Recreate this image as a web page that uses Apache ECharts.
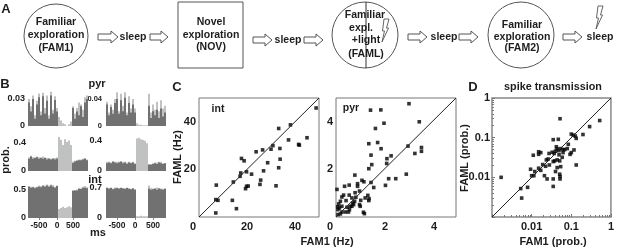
<!DOCTYPE html>
<html><head><meta charset="utf-8">
<style>html,body{margin:0;padding:0;background:#fff}#c{width:617px;height:248px}</style>
<script src="https://cdn.jsdelivr.net/npm/echarts@6/dist/echarts.min.js"></script>
</head><body><div id="c"></div>
<script>
// ---------- Panel B: histograms (30 bins per panel) ----------
var binsLeft  = ['','','','','','-500','','','','','','','','','0','','','','','','','','500','','','','','','',''];
var binsRight = ['','','','','','-500','','','','','','','','','0','','','','','','','','','500','','','','','',''];

var r1LeftDark  = [.026,.016,.030,.008,.024,.032,.012,.033,.014,.028,.008,.034,.014,.029,.016,0,0,0,0,0,0,0,.020,.008,.016,.012,.022,.010,.026,.030];
var r1LeftLight = [.030,.022,.034,.012,.028,.036,.016,.037,.020,.034,.012,.038,.018,.033,.020,.010,.006,.003,.002,0,.002,.005,.022,.014,.020,.026,.024,.018,.032,.034];
var r1RightDark  = [.032,.016,.028,.018,.034,.040,.018,.038,.022,.042,.016,.034,.020,.032,.020,0,0,0,0,0,0,.030,.012,.022,.016,.024,.012,.026,.014,.020];
var r1RightLight = [.036,.020,.032,.024,.040,.050,.022,.048,.030,.050,.020,.044,.026,.040,.026,.004,.002,.002,.001,.001,.001,.048,.020,.032,.024,.036,.022,.038,.026,.030];
var r2LeftDark  = [.17,.20,.17,.18,.19,.17,.18,.17,.18,.16,.17,.16,.17,.16,.17,0,0,0,0,0,0,0,.11,.13,.14,.15,.15,.16,.17,.15];
var r2LeftLight = [.19,.21,.19,.19,.20,.19,.19,.20,.19,.18,.18,.17,.18,.18,.19,.47,.43,.36,.44,.40,.42,.36,.13,.14,.15,.16,.16,.17,.18,.16];
var r2RightDark  = [.10,.11,.10,.12,.11,.10,.11,.12,.10,.11,.09,.11,.10,.11,.09,0,0,0,0,0,0,.08,.08,.09,.10,.09,.11,.10,.09,.10];
var r2RightLight = [.12,.12,.11,.13,.12,.12,.12,.13,.12,.12,.11,.12,.11,.12,.10,.42,.43,.41,.40,.39,.36,.09,.09,.10,.11,.11,.12,.12,.10,.10];
var r3LeftDark  = [.56,.54,.55,.53,.55,.56,.55,.57,.56,.58,.56,.58,.56,.54,.57,0,0,0,0,0,0,0,.48,.49,.49,.52,.52,.54,.54,.53];
var r3LeftLight = [.57,.56,.56,.55,.56,.58,.57,.59,.58,.60,.58,.60,.59,.56,.58,.16,.18,.20,.18,.19,.21,.19,.50,.50,.51,.54,.53,.56,.57,.55];
var r3RightDark  = [.70,.68,.70,.67,.69,.70,.68,.70,.69,.68,.70,.68,.67,.69,.66,0,0,0,0,0,0,.68,.66,.67,.68,.66,.69,.67,.66,.68];
var r3RightLight = [.72,.70,.71,.69,.71,.71,.70,.71,.70,.69,.71,.69,.68,.70,.67,.04,.04,.05,.04,.04,.04,.76,.70,.69,.70,.71,.70,.69,.68,.69];

// ---------- Panel C: firing rates, FAM1 vs FAML ----------
var intPoints = [[7.2,13.4],[7,7.3],[7.9,7],[7,1.7],[13.9,7],[15.6,3.5],[14.3,14.7],[17.1,17.1],[17.4,18.5],[17.7,24.6],[18.8,23.6],[19.8,19],[21.9,18],[19.4,11.9],[19.8,12.9],[20.5,13],[23.8,27.4],[26.5,28.2],[25.4,13.7],[25.7,15.5],[26.9,19.4],[28.6,22.8],[30,28.5],[30.8,30],[32.1,13.1],[33.2,37.2],[33.7,28.8],[33.8,24.3],[33.2,20.7],[37.3,32.4],[38.1,38.7],[41.8,30.2],[41.5,30.5],[45,33.3],[48.8,45.8]];
var pyrPoints = [[2.98,4.76],[3.4,4],[1.41,4.49],[1.83,4.5],[1.96,3.94],[1.61,3.72],[1.7,3.13],[1.34,3.08],[1.84,2.87],[2.94,2.98],[3.49,2.92],[3.49,2.76],[3.22,2.67],[1.43,2.6],[2.25,2.57],[2.08,2.45],[2.07,2.25],[1.46,2.2],[1.34,2.03],[2.87,1.8],[.77,1.76],[2.15,1.61],[2.44,1.61],[2.02,1.33],[1.06,1.54],[1.14,1.48],[1.43,1.45],[1.54,1.24],[.88,1.4],[.88,1.29],[.54,1.34],[.35,1.29],[.04,1.16],[.96,1.09],[.78,1.02],[.54,.92],[.31,.92],[.24,.84],[.65,.8],[.81,.83],[.41,.69],[.18,.66],[.11,.55],[.07,.43],[.14,.38],[.08,.31],[.24,.45],[.45,.41],[.58,.45],[.68,.59],[.76,.66],[.55,.31],[.65,.45],[.72,.52],[.24,.21],[.38,.21],[.08,.1],[.18,.13],[.51,.21],[1.19,.8],[1.3,.91],[1.35,.77],[1.34,.69],[1.01,.7],[.96,.52],[.99,.45],[1.12,.2],[1.16,.14]];

// ---------- Panel D: spike transmission ----------
var spikePoints = [[.0017,.010],[.0053,.0052],[.0056,.003],[.0079,.0056],[.0094,.016],[.010,.011],[.0114,.011],[.012,.014],[.015,.017],[.011,.036],[.015,.038],[.015,.044],[.017,.042],[.017,.015],[.019,.021],[.021,.011],[.0245,.0091],[.0235,.0275],[.026,.029],[.0225,.019],[.028,.0205],[.0275,.040],[.033,.043],[.035,.025],[.038,.026],[.035,.0091],[.035,.0059],[.035,.089],[.047,.091],[.052,.30],[.042,.059],[.044,.052],[.049,.047],[.040,.046],[.037,.040],[.054,.053],[.062,.050],[.068,.050],[.079,.053],[.084,.068],[.049,.037],[.059,.032],[.044,.0275],[.051,.026],[.062,.042],[.044,.0176],[.054,.0186],[.040,.014],[.051,.012],[.052,.0105],[.052,.0091],[.093,.038],[.10,.042],[.117,.049],[.10,.123],[.112,.116],[.126,.11],[.133,.096],[.133,.0205],[.197,.12],[.29,.19],[.52,.27]];

function font(size){ return 'bold ' + size + 'px "Liberation Sans", Arial, sans-serif'; }
var ink = '#1d1d1d';

var grid = [], xAxis = [], yAxis = [], series = [], graphic = [];

function txt(s, x, y, size, rot, color){
  graphic.push({type:'text', x:x, y:y, rotation:rot||0, silent:true, z:50,
    style:{text:s, font:font(size), fill:color||ink, align:'center', verticalAlign:'middle'}});
}
function histo(left, top, height, cats, dark, light, ymax, ticks, labelSize, margin){
  var i = grid.length;
  grid.push({left:left, top:top, width:60, height:height});
  xAxis.push({type:'category', gridIndex:i, data:cats, boundaryGap:true,
    axisLine:{show:false},
    axisTick:{show:true, length:2, alignWithLabel:true, interval:function(n,v){return v!=='';}, lineStyle:{color:'#888'}},
    axisLabel:{interval:function(n,v){return v!=='';}, color:ink, margin:3, fontWeight:'bold', fontSize:8.5, fontFamily:'Liberation Sans'}});
  yAxis.push({type:'value', gridIndex:i, min:0, max:ymax, splitLine:{show:false}, axisLine:{show:false},
    axisTick:{show:false},
    axisLabel:{customValues:ticks, showMinLabel:true, showMaxLabel:true, margin:margin, color:ink, fontWeight:'bold', fontSize:labelSize, fontFamily:'Liberation Sans'}});
  series.push({type:'bar', xAxisIndex:i, yAxisIndex:i, data:light, barWidth:'88%', barGap:'-100%', itemStyle:{color:'#b8baba'}, silent:true, animation:false});
  series.push({type:'bar', xAxisIndex:i, yAxisIndex:i, data:dark, barWidth:'88%', barGap:'-100%', itemStyle:{color:'#666666'}, silent:true, animation:false});
}
var noLabel = binsLeft.map(function(){return '';});

histo(28, 91, 35, noLabel, r1LeftDark, r1LeftLight, .0389, [0,.03], 9, 3);
histo(106,91, 35, noLabel, r1RightDark, r1RightLight, .0519, [0,.04], 7.5, 4);
histo(28, 135,36, noLabel, r2LeftDark, r2LeftLight, .497, [0,.4], 9, 2);
histo(106,135,36, noLabel, r2RightDark, r2RightLight, .465, [0,.4], 9, 4);
histo(28, 183,35, binsLeft, r3LeftDark, r3LeftLight, .625, [0,.5], 9, 2);
histo(106,183,35, binsRight, r3RightDark, r3RightLight, .817, [0,.7], 9, 4);

function scatter(left, top, width, height, xmax, ymax, xt, yt, pts){
  var i = grid.length;
  grid.push({left:left, top:top, width:width, height:height, show:true, borderColor:'#777', borderWidth:1, backgroundColor:'transparent'});
  xAxis.push({type:'value', gridIndex:i, min:0, max:xmax, splitLine:{show:false}, axisLine:{show:false}, axisTick:{show:false},
    name:'0', nameLocation:'start', nameGap:6,
    nameTextStyle:{color:ink, fontWeight:'bold', fontSize:11, fontFamily:'Liberation Sans', align:'center', verticalAlign:'top', padding:[4,0,0,0]},
    axisLabel:{customValues:xt, margin:4, color:ink, fontWeight:'bold', fontSize:11, fontFamily:'Liberation Sans'}});
  yAxis.push({type:'value', gridIndex:i, min:0, max:ymax, splitLine:{show:false}, axisLine:{show:false}, axisTick:{show:false},
    axisLabel:{customValues:yt, margin:3, color:ink, fontWeight:'bold', fontSize:11, fontFamily:'Liberation Sans'}});
  series.push({type:'line', xAxisIndex:i, yAxisIndex:i, data:[[0,0],[xmax,ymax]], showSymbol:false, lineStyle:{color:'#222',width:1}, silent:true, animation:false});
  series.push({type:'scatter', xAxisIndex:i, yAxisIndex:i, data:pts, symbol:'rect', symbolSize:3.6, itemStyle:{color:'#000'}, silent:true, animation:false});
}
scatter(199, 98, 120, 119, 50, 50, [20,40], [20,40], intPoints);
scatter(336, 98, 120, 119, 4.9, 5, [2,4], [2,4], pyrPoints);

// D: log-log
(function(){
  var i = grid.length;
  grid.push({left:492, top:98, width:120, height:119, show:true, borderColor:'#888', borderWidth:1.5, backgroundColor:'transparent'});
  function fmt(v){ return v>=1 ? '1' : (v>=.09 ? '0.1' : '0.01'); }
  xAxis.push({type:'log', logBase:10, gridIndex:i, min:.001, max:1, splitLine:{show:false}, axisLine:{show:false},
    axisTick:{show:true, inside:true, length:3, lineStyle:{color:'#777'}}, minorTick:{show:true, splitNumber:9, length:2, lineStyle:{color:'#777'}}, minorSplitLine:{show:false},
    axisLabel:{customValues:[.01,.1,1], showMaxLabel:true, formatter:fmt, margin:4, color:ink, fontWeight:'bold', fontSize:11, fontFamily:'Liberation Sans'}});
  yAxis.push({type:'log', logBase:10, gridIndex:i, min:.001, max:1, splitLine:{show:false}, axisLine:{show:false},
    axisTick:{show:true, inside:true, length:3, lineStyle:{color:'#777'}}, minorTick:{show:true, splitNumber:9, length:2, lineStyle:{color:'#777'}}, minorSplitLine:{show:false},
    axisLabel:{customValues:[.01,.1,1], showMaxLabel:true, formatter:fmt, margin:2, color:ink, fontWeight:'bold', fontSize:11, fontFamily:'Liberation Sans'}});
  series.push({type:'line', xAxisIndex:i, yAxisIndex:i, data:[[.001,.001],[1,1]], showSymbol:false, lineStyle:{color:'#222',width:1}, silent:true, animation:false});
  series.push({type:'scatter', xAxisIndex:i, yAxisIndex:i, data:spikePoints, symbol:'rect', symbolSize:3.6, itemStyle:{color:'#000'}, silent:true, animation:false});
})();

// ---------- Panel labels and axis titles ----------
txt('A', 6, 9, 13);
txt('B', 5, 84, 13);
txt('C', 177, 87, 13);
txt('D', 473, 87, 13);
txt('pyr', 97, 84, 11);
txt('int', 95, 180, 11);
txt('ms', 98, 233, 11);
txt('prob.', 6, 160, 11, Math.PI/2);
txt('int', 218, 109, 10.5);
txt('pyr', 351, 108, 10.5);
txt('FAML (Hz)', 178, 157, 11, Math.PI/2);
txt('FAM1 (Hz)', 327, 242, 11);
txt('spike transmission', 553, 87, 10.8);
txt('FAM1 (prob.)', 553, 242, 11);
txt('FAML (prob.)', 465, 158, 11, Math.PI/2);

// ---------- Panel A: schematic ----------
function circle(cx, cy, r){ graphic.push({type:'circle', shape:{cx:cx,cy:cy,r:r}, silent:true, style:{fill:'#fff',stroke:'#555',lineWidth:1}}); }
function arrow(x0, x1, y){
  var h=3, H=6, n=x1-7;
  graphic.push({type:'polygon', silent:true, shape:{points:[[x0,y-h],[n,y-h],[n,y-H],[x1,y],[n,y+H],[n,y+h],[x0,y+h]]},
    style:{fill:'#fff',stroke:'#555',lineWidth:1}});
}
function bolt(x, y){
  graphic.push({type:'polygon', silent:true, z:60, shape:{points:[[x,y],[x+5,y],[x+2.5,y+9],[x+4.5,y+9],[x-2,y+23],[x+.5,y+12],[x-1.5,y+12]]},
    style:{fill:'#fff',stroke:'#555',lineWidth:.9}});
}
circle(56,36,32);
txt('Familiar',56,22,10.5); txt('exploration',56,35,10.5); txt('(FAM1)',56,48,10.5);
graphic.push({type:'rect', silent:true, shape:{x:178,y:2,width:65,height:66}, style:{fill:'#fff',stroke:'#555',lineWidth:1}});
txt('Novel',211,22,10.5); txt('exploration',211,35,10.5); txt('(NOV)',211,47,10.5);
circle(365,35,33);
graphic.push({type:'line', silent:true, shape:{x1:366,y1:2,x2:366,y2:68}, style:{stroke:'#333',lineWidth:1}});
txt('Familiar',365,15,10.5); txt('expl.',361,28,10.5); txt('+light',366,40,10.5); txt('(FAML)',366,54,10.5);
circle(521,35,33);
txt('Familiar',522,25,10.5); txt('exploration',522,37,10.5); txt('(FAM2)',522,48,10.5);
arrow(98,118,37); arrow(150,168,37); arrow(253,272,40); arrow(304,323,40);
arrow(408,427,37); arrow(459,478,37); arrow(563,582,37);
txt('sleep',133,37,10.5); txt('sleep',288,40,10.5); txt('sleep',444,37,10.5); txt('sleep',600,37,10.5);
bolt(384,19); bolt(598,6);

var chart = echarts.init(document.getElementById('c'), null, {renderer:'canvas'});
chart.setOption({animation:false, backgroundColor:'#fff', grid:grid, xAxis:xAxis, yAxis:yAxis, series:series, graphic:{elements:graphic}});
</script></body></html>
